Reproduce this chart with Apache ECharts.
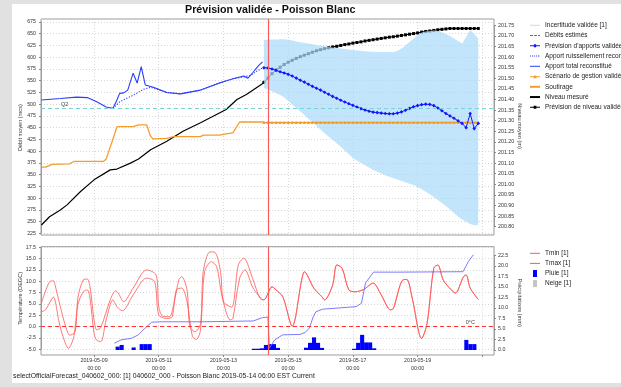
<!DOCTYPE html>
<html>
<head>
<meta charset="utf-8">
<script src="https://cdn.jsdelivr.net/npm/echarts@6/dist/echarts.min.js"></script>
<style>
  html, body { margin: 0; padding: 0; width: 621px; height: 387px; overflow: hidden; background: #e1e1e1; }
  #panel { position: absolute; left: 12px; top: 4px; width: 609px; height: 379px; background: #ffffff; }
  #chart { position: absolute; left: 0; top: 0; width: 621px; height: 387px; }
</style>
</head>
<body>
<div id="panel"></div>
<div id="chart"></div>
<script>
// ---- Time frame -------------------------------------------------------
const YEAR = 2019;
const axisStart = '05-07 08:40';
const axisEnd = '05-21 08:40';
const nowMark = '05-14 09:00';
const forecastStart = '05-14 06:00';
const forecastStepHours = 3;
const rainStepHours = 3;
const q2Flow = 491;

// ---- Observed inflow / withdrawal (mcs) and level (m) -----------------
const inflowTotal = [
  ['05-07 09:00', 509], ['05-07 23:00', 512], ['05-08 11:00', 515], ['05-08 19:00', 514],
  ['05-09 02:00', 505], ['05-09 09:00', 494], ['05-09 14:00', 491], ['05-09 17:00', 509],
  ['05-09 19:00', 523], ['05-09 22:00', 524], ['05-10 01:00', 530], ['05-10 05:00', 566],
  ['05-10 08:00', 545], ['05-10 11:00', 580], ['05-10 14:00', 541], ['05-10 20:00', 536],
  ['05-11 06:00', 525], ['05-11 16:00', 522], ['05-12 07:00', 530], ['05-12 21:00', 545],
  ['05-13 07:00', 554], ['05-13 15:00', 560], ['05-13 18:00', 555], ['05-13 22:00', 568],
  ['05-14 02:00', 582], ['05-14 05:00', 590]
];
const inflowRunoff = [
  ['05-09 14:00', 491], ['05-09 19:00', 505], ['05-10 05:00', 519], ['05-10 13:00', 532],
  ['05-10 18:00', 536], ['05-11 06:00', 525], ['05-11 16:00', 522], ['05-12 07:00', 530],
  ['05-12 21:00', 545], ['05-13 07:00', 554], ['05-13 15:00', 558], ['05-13 20:00', 561],
  ['05-14 00:00', 569], ['05-14 05:00', 577]
];
const withdrawal = [
  ['05-07 09:00', 366], ['05-07 12:00', 366], ['05-07 17:00', 372], ['05-08 06:00', 373],
  ['05-08 09:00', 378], ['05-09 07:00', 378], ['05-09 09:00', 383], ['05-09 13:00', 417],
  ['05-09 17:00', 452], ['05-10 05:00', 452], ['05-10 09:00', 456], ['05-10 15:00', 456],
  ['05-10 18:00', 431], ['05-10 20:00', 426], ['05-11 06:00', 427], ['05-11 11:00', 431],
  ['05-12 07:00', 431], ['05-12 09:00', 434], ['05-12 21:00', 434], ['05-13 01:00', 436],
  ['05-13 07:00', 439], ['05-13 12:00', 462], ['05-14 06:00', 462]
];
const levelMeasured = [
  ['05-07 09:00', 200.808], ['05-07 15:00', 200.847], ['05-07 23:00', 200.879], ['05-08 04:00', 200.903],
  ['05-08 14:00', 200.966], ['05-09 00:00', 201.021], ['05-09 12:00', 201.068], ['05-09 17:00', 201.072],
  ['05-10 03:00', 201.100], ['05-10 09:00', 201.119], ['05-10 18:00', 201.163], ['05-11 06:00', 201.203],
  ['05-11 18:00', 201.250], ['05-12 07:00', 201.290], ['05-13 02:00', 201.353], ['05-13 10:00', 201.400],
  ['05-13 17:00', 201.424], ['05-14 06:00', 201.479]
];

// ---- Forecast, every 3 h from forecastStart ---------------------------
const fcInflow = [
  577.5, 577, 575, 572, 569, 566.5, 563.5, 560, 555.5, 551, 547, 542.5, 538, 534, 530, 525.5, 521, 516.5,
  512.5, 508.5, 504.5, 501, 497.5, 494, 490.5, 487.5, 485, 483, 482, 481, 480, 479.5, 479.5, 481, 483.5, 487,
  491, 494.5, 497, 499, 500, 499.5, 497, 492, 486, 480, 475, 470, 464.5, 459, 450, 480, 448, 459
];
const fcLevel = [
  201.481, 201.501, 201.522, 201.539, 201.552, 201.565, 201.576, 201.585, 201.594, 201.602, 201.609, 201.616,
  201.623, 201.630, 201.635, 201.640, 201.644, 201.648, 201.651, 201.655, 201.659, 201.662, 201.666, 201.669,
  201.672, 201.676, 201.679, 201.682, 201.685, 201.688, 201.691, 201.694, 201.696, 201.699, 201.702, 201.705,
  201.708, 201.711, 201.714, 201.718, 201.721, 201.723, 201.726, 201.729, 201.731, 201.733, 201.735, 201.735,
  201.735, 201.735, 201.735, 201.735, 201.735, 201.735
];
const fcBandHigh = [
  636.7, 637.1, 637.5, 637.7, 638.2, 638.2, 637.1, 635.6, 633.5, 631.8, 630.3, 629, 627.5, 626, 624.5, 623.3,
  622, 620.7, 619.6, 618.6, 617.5, 616.4, 615.4, 614.5, 613.7, 612.8, 612.2, 611.5, 611.1, 611.1, 611.1, 611.1,
  611.1, 613.2, 618.6, 625, 632.4, 639.9, 647.3, 652.6, 654.8, 655.8, 656.7, 655.8, 653.1, 649.4, 645.2, 639.9,
  634.6, 629.2, 643.1, 658, 649.4, 639.9
];
const fcBandLow = [
  534.5, 531.3, 527.4, 523.8, 519.5, 514.2, 506.8, 499.3, 491.9, 484.4, 477, 469.1, 461.4, 453.5, 446.1, 438.2,
  431.2, 423.7, 416.9, 409.2, 401.3, 393.2, 385.4, 380.1, 374.7, 369.8, 365.2, 359.8, 356, 352.4, 348.8, 345.4,
  342.2, 339.4, 336.4, 333.7, 330.7, 327.9, 323.7, 319, 313.4, 308.1, 302.3, 295.9, 289.5, 283.2, 275.7, 268.3,
  260.8, 254.4, 249.7, 244.8, 242.1, 242.7
];
const fcScenario = [
  461, 461, 461, 461, 461, 461, 461, 461, 461, 461, 461, 461, 461, 461, 461, 461, 461, 461,
  461, 461, 461, 461, 461, 461, 461, 461, 461, 461, 461, 461, 461, 461, 461, 461, 461, 461,
  461, 461, 461, 461, 461, 461, 461, 461, 461, 461, 461, 461, 461, 461, 461, 461, 461, 461
];

// ---- Meteo (°C, mm) ----------------------------------------------------
const tmaxObserved = [
  ['05-07 09:00', 5.2], ['05-07 15:00', 9.9], ['05-07 18:00', 10.1], ['05-07 19:00', 9.3], ['05-07 23:00', 4.4],
  ['05-08 03:00', 0.0], ['05-08 06:00', -1.9], ['05-08 10:00', -1.1], ['05-08 12:00', 6.3], ['05-08 16:00', 10.3],
  ['05-08 19:00', 10.5], ['05-08 21:00', 8.8], ['05-09 00:00', 1.5], ['05-09 02:00', -0.7], ['05-09 05:00', -0.2],
  ['05-09 12:00', 5.9], ['05-09 16:00', 7.9], ['05-09 18:00', 7.4], ['05-09 22:00', 5.5], ['05-10 05:00', 8.5],
  ['05-10 15:00', 12.5], ['05-10 22:00', 11.4], ['05-11 00:00', 4.4], ['05-11 03:00', 2.3], ['05-11 08:00', 2.2],
  ['05-11 11:00', 4.8], ['05-11 15:00', 10.4], ['05-11 17:00', 11.0], ['05-11 21:00', 8.1], ['05-11 23:00', 0.0],
  ['05-12 03:00', -1.1], ['05-12 07:00', 0.7], ['05-12 09:00', 12.1], ['05-12 14:00', 16.5], ['05-12 18:00', 16.3],
  ['05-12 22:00', 11.8], ['05-13 00:00', 5.5], ['05-13 06:00', 4.3], ['05-13 11:00', 13.6], ['05-13 15:00', 15.1],
  ['05-13 22:00', 10.3], ['05-14 03:00', 6.3]
];
const tminObserved = [
  ['05-07 09:00', 3.3], ['05-07 12:00', 3.7], ['05-07 17:00', 6.3], ['05-07 18:00', 6.5], ['05-07 22:00', 1.1],
  ['05-08 01:00', -2.2], ['05-08 05:00', -4.8], ['05-08 09:00', -2.2], ['05-08 12:00', 4.8], ['05-08 16:00', 7.7],
  ['05-08 19:00', 8.1], ['05-08 21:00', 6.3], ['05-09 00:00', -1.5], ['05-09 02:00', -3.0], ['05-09 05:00', -3.3],
  ['05-09 09:00', 1.5], ['05-09 14:00', 5.9], ['05-09 17:00', 4.4], ['05-09 21:00', 3.5], ['05-10 05:00', 7.0],
  ['05-10 15:00', 10.7], ['05-10 21:00', 9.9], ['05-11 00:00', 2.6], ['05-11 06:00', 1.8], ['05-11 10:00', 2.2],
  ['05-11 13:00', 8.1], ['05-11 17:00', 8.5], ['05-11 21:00', 5.5], ['05-12 01:00', -2.2], ['05-12 04:00', -2.8],
  ['05-12 07:00', -0.7], ['05-12 10:00', 12.1], ['05-12 15:00', 14.3], ['05-12 19:00', 13.2], ['05-12 23:00', 6.6],
  ['05-13 05:00', 1.5], ['05-13 07:00', 1.8], ['05-13 12:00', 10.7], ['05-13 16:00', 12.5], ['05-13 22:00', 8.5]
];
const tempForecast = [
  ['05-14 06:00', 5.9], ['05-14 12:00', 8.8], ['05-14 15:00', 8.1], ['05-14 20:00', 6.6], ['05-15 03:00', 0.1],
  ['05-15 10:00', 10.3], ['05-15 12:00', 12.1], ['05-15 19:00', 8.5], ['05-16 01:00', 6.6], ['05-16 03:00', 5.9],
  ['05-16 09:00', 9.2], ['05-16 12:00', 13.6], ['05-16 16:00', 12.9], ['05-16 21:00', 8.1], ['05-17 02:00', 7.7],
  ['05-17 08:00', 8.2], ['05-17 15:00', 9.6], ['05-17 21:00', 7.0], ['05-18 04:00', 3.7], ['05-18 06:00', 4.0],
  ['05-18 13:00', 10.3], ['05-18 16:00', 10.4], ['05-18 20:00', 6.3], ['05-19 03:00', -2.6], ['05-19 07:00', 0.7],
  ['05-19 12:00', 12.9], ['05-19 15:00', 13.6], ['05-19 19:00', 10.3], ['05-20 01:00', 8.1], ['05-20 04:00', 7.4],
  ['05-20 10:00', 11.0], ['05-20 12:00', 11.4], ['05-20 15:00', 8.5], ['05-20 21:00', 6.0]
];
const precipCumul = [
  ['05-09 14:00', 1.6], ['05-09 19:00', 2.4], ['05-10 03:00', 2.8], ['05-10 08:00', 3.6], ['05-10 13:00', 5.2],
  ['05-10 18:00', 6.6], ['05-11 00:00', 6.7], ['05-12 07:00', 6.7], ['05-13 22:00', 6.9], ['05-14 05:00', 7.7],
  ['05-14 09:00', 7.8], ['05-14 10:00', 0.4], ['05-14 14:00', 2.4], ['05-14 20:00', 3.6], ['05-15 09:00', 3.7],
  ['05-15 13:00', 4.2], ['05-15 16:00', 5.2], ['05-15 19:00', 8.0], ['05-15 21:00', 9.1], ['05-16 02:00', 9.7],
  ['05-17 03:00', 10.3], ['05-17 07:00', 11.1], ['05-17 10:00', 15.9], ['05-17 16:00', 18.5], ['05-18 11:00', 18.5],
  ['05-20 11:00', 18.6], ['05-20 15:00', 21.0], ['05-20 21:00', 23.6]
];
// rain per 3 h period, keyed by period start
const rain = [
  ['05-09 15:00', 0.8], ['05-09 18:00', 1.2], ['05-10 03:00', 0.6], ['05-10 09:00', 1.4], ['05-10 12:00', 1.4],
  ['05-10 15:00', 1.4], ['05-13 21:00', 0.3], ['05-14 00:00', 0.3], ['05-14 03:00', 0.4], ['05-14 06:00', 1.2],
  ['05-14 09:00', 1.4], ['05-14 12:00', 1.4], ['05-14 15:00', 0.5], ['05-15 12:00', 0.55], ['05-15 15:00', 1.7],
  ['05-15 18:00', 3.0], ['05-15 21:00', 1.7], ['05-16 00:00', 0.5], ['05-17 00:00', 0.3], ['05-17 03:00', 1.7],
  ['05-17 06:00', 3.6], ['05-17 09:00', 1.8], ['05-17 12:00', 1.8], ['05-17 15:00', 0.4], ['05-20 12:00', 2.4],
  ['05-20 15:00', 1.4], ['05-20 18:00', 1.4]
];
const snow = [];

// ---- Labels -------------------------------------------------------------
const titleText = 'Prévision validée - Poisson Blanc';
const statusText = 'selectOfficialForecast_040602_000: [1] 040602_000 - Poisson Blanc 2019-05-14 06:00 EST Current';
const topLegend = ['Incertitude validée [1]', 'Débits estimés', "Prévision d'apports validée",
  'Apport ruissellement reconstitué', 'Apport total reconstitué', 'Scénario de gestion validé [1]',
  'Soutirage', 'Niveau mesuré', 'Prévision de niveau validée'];
const bottomLegend = ['Tmin [1]', 'Tmax [1]', 'Pluie [1]', 'Neige [1]'];

// ---- Helpers -------------------------------------------------------------
const HOUR = 3600e3;
function toTime(s) {
  const [md, hm] = s.split(' ');
  const [mo, d] = md.split('-').map(Number);
  const [h, mi] = hm.split(':').map(Number);
  return Date.UTC(YEAR, mo - 1, d, h, mi);
}
const pairs = arr => arr.map(([t, v]) => [toTime(t), v]);
const fcTimes = fcInflow.map((_, i) => toTime(forecastStart) + i * forecastStepHours * HOUR);
const onForecast = vals => vals.map((v, i) => [fcTimes[i], v]);
const pad = n => String(n).padStart(2, '0');
const X0 = toTime(axisStart), X1 = toTime(axisEnd);

const FONT = 'Liberation Sans';
const FRAME = '#9c9c9c';
const GRIDLINE = { color: '#cdcdcd', type: [1, 2], width: 0.8 };

function dateLabel(v) {
  const d = new Date(v);
  if (d.getUTCHours() || d.getUTCMinutes() || X1 - v < 12 * HOUR) return '';
  return d.getUTCFullYear() + '-' + pad(d.getUTCMonth() + 1) + '-' + pad(d.getUTCDate()) +
    '\n' + pad(d.getUTCHours()) + ':' + pad(d.getUTCMinutes());
}

// frame grids (0, 3) plus one grid per value axis so each axis keeps its own span
const grids = [
  { left: 41, top: 19, width: 453, height: 216, show: true, borderColor: FRAME, borderWidth: 1, backgroundColor: 'transparent' },
  { left: 41, top: 22, width: 453, height: 211.3 },
  { left: 41, top: 25.3, width: 453, height: 201.4 },
  { left: 41, top: 246.7, width: 453, height: 108.3, show: true, borderColor: FRAME, borderWidth: 1, backgroundColor: 'transparent' },
  { left: 41, top: 247.3, width: 453, height: 102 },
  { left: 41, top: 255.3, width: 453, height: 94.7 }
].map(g => Object.assign({ outerBoundsMode: 'none', containLabel: false }, g));

const xAxes = grids.map((g, i) => ({
  type: 'time', gridIndex: i, min: X0, max: X1,
  minInterval: 48 * HOUR, maxInterval: 48 * HOUR,
  show: i === 0 || i === 3,
  axisLine: { show: false },
  axisTick: { show: i === 3, length: 2, lineStyle: { color: '#888' } },
  axisLabel: { show: i === 3, formatter: dateLabel, fontSize: 5.3, lineHeight: 7.7, color: '#333',
    margin: 1.5, fontFamily: FONT, hideOverlap: false },
  splitLine: { show: true, lineStyle: GRIDLINE }
}));

function valueAxis(gi, min, max, step, pos, name, rot, gap, decimals, grid) {
  return {
    type: 'value', gridIndex: gi, min, max, interval: step, position: pos,
    name, nameLocation: 'middle', nameRotate: rot, nameGap: gap, nameMoveOverlap: false,
    nameTextStyle: { fontSize: 5.6, color: '#333', fontFamily: FONT },
    axisLine: { show: true, lineStyle: { color: FRAME } },
    axisTick: { show: true, length: 2, lineStyle: { color: '#888' } },
    axisLabel: { fontSize: 5.3, color: '#333', fontFamily: FONT, margin: pos === 'left' ? 5 : 4,
      formatter: v => decimals ? v.toFixed(decimals) : String(Math.round(v)) },
    splitLine: { show: grid, lineStyle: GRIDLINE }
  };
}
const yAxes = [
  { type: 'value', gridIndex: 0, min: 0, max: 1, show: false },
  valueAxis(1, 225, 675, 25, 'left', 'Débit moyen (mcs)', 90, 18, 0, true),
  valueAxis(2, 200.8, 201.75, 0.05, 'right', 'Niveau moyen (m)', -90, 23, 2, false),
  { type: 'value', gridIndex: 3, min: 0, max: 1, show: false },
  valueAxis(4, -5, 17.5, 2.5, 'left', 'Température (DEGC)', 90, 18, 1, true),
  valueAxis(5, 0, 22.5, 2.5, 'right', 'Précipitations (mm)', -90, 23, 1, false)
];

const line = (name, xi, data, style, extra) => Object.assign({
  type: 'line', name, xAxisIndex: xi, yAxisIndex: xi, data, symbol: 'none', silent: true, z: 4,
  lineStyle: style, itemStyle: { color: style.color }
}, extra || {});

const BLUE = '#2b3dff';
const ORANGE = '#f59d2a';
const RED = '#ff5656';
const nowLine = {
  silent: true, symbol: 'none', label: { show: false },
  lineStyle: { color: '#ff5a5a', width: 1.2, type: 'solid' },
  data: [{ xAxis: toTime(nowMark) }]
};

const tminAll = pairs(tminObserved).concat(pairs(tempForecast));
const tmaxAll = pairs(tmaxObserved).concat(pairs(tempForecast));
const rainBars = rain.map(([t, v]) => [toTime(t) + rainStepHours * HOUR / 2, v]);

const series = [
  // level forecast sits beneath the uncertainty band
  line('Prévision de niveau validée', 2, onForecast(fcLevel), { color: '#000', width: 1 },
    { symbol: 'rect', symbolSize: 3, showSymbol: true, showAllSymbol: true, z: 2 }),
  line('Niveau mesuré', 2, pairs(levelMeasured), { color: '#000', width: 1.2 }, { z: 2 }),
  line('bande-min', 1, onForecast(fcBandLow), { color: '#fff', opacity: 0 }, { stack: 'incertitude', z: 3 }),
  line('Incertitude validée [1]', 1, fcBandHigh.map((v, i) => [fcTimes[i], v - fcBandLow[i]]),
    { color: '#b9e0fa', opacity: 0 },
    { stack: 'incertitude', z: 3, areaStyle: { color: 'rgba(172,219,251,0.72)', opacity: 1 } }),
  line('Soutirage', 1, pairs(withdrawal), { color: ORANGE, width: 1.3 }),
  line('Scénario de gestion validé [1]', 1, onForecast(fcScenario), { color: ORANGE, width: 1.4 },
    { symbol: 'triangle', symbolSize: 3, showSymbol: true, showAllSymbol: true }),
  line('Apport total reconstitué', 1, pairs(inflowTotal), { color: BLUE, width: 1.1 }),
  line('Apport ruissellement reconstitué', 1, pairs(inflowRunoff), { color: BLUE, width: 1.1, type: [1.2, 1.6] }),
  line('Débits estimés', 1, [], { color: '#3a6bff', width: 1.2, type: [3, 2] }),
  line("Prévision d'apports validée", 1, onForecast(fcInflow), { color: '#1414ff', width: 1 },
    { symbol: 'diamond', symbolSize: 3.6, showSymbol: true, showAllSymbol: true,
      markLine: {
        silent: true, symbol: 'none',
        lineStyle: { color: '#79d4d8', width: 1, type: [4, 3] },
        label: { show: true, formatter: 'Q2', position: 'insideStartTop', distance: 1,
          padding: [0, 0, 0, 19], fontSize: 5.5, color: '#444', fontFamily: FONT },
        data: [{ yAxis: q2Flow }]
      } }),
  line('now-top', 0, [[toTime(nowMark), 0.5]], { opacity: 0 }, { markLine: nowLine }),

  line('Tmin [1]', 4, tminAll, { color: RED, width: 0.8 }, { smooth: 0.3 }),
  line('Tmax [1]', 4, tmaxAll, { color: RED, width: 0.8 },
    { smooth: 0.3,
      markLine: {
        silent: true, symbol: 'none',
        lineStyle: { color: '#ff3434', width: 1, type: [4, 3] },
        label: { show: true, formatter: '0°C', position: 'insideEndTop', distance: 1,
          padding: [0, 18, 0, 0], fontSize: 5.5, color: '#444', fontFamily: FONT },
        data: [{ yAxis: 0 }]
      } }),
  line('cumul', 5, pairs(precipCumul), { color: '#6c6cff', width: 0.9 }),
  { type: 'bar', name: 'Pluie [1]', xAxisIndex: 5, yAxisIndex: 5, stack: 'precip', silent: true, z: 3,
    data: rainBars, barWidth: 4.1, itemStyle: { color: '#0000ff' } },
  { type: 'bar', name: 'Neige [1]', xAxisIndex: 5, yAxisIndex: 5, stack: 'precip', silent: true, z: 3,
    data: snow, barWidth: 4.1, itemStyle: { color: '#c4c4c4' } },
  line('now-bottom', 3, [[toTime(nowMark), 0.5]], { opacity: 0 }, { markLine: nowLine })
];

// legend glyphs: plain, dashed, dotted lines and lines carrying a marker
const ICON = {
  plain: 'path://M0 3H10V4H0Z',
  thick: 'path://M0 2.5H10V4.5H0Z',
  dashed: 'path://M0 3H3V4H0Z M4 3H7V4H4Z M8 3H10V4H8Z',
  dotted: 'path://M0 3H1V4H0Z M2 3H3V4H2Z M4 3H5V4H4Z M6 3H7V4H6Z M8 3H9V4H8Z M9.6 3H10V4H9.6Z',
  diamond: 'path://M0 3H10V4H0Z M5 1.5L7 3.5L5 5.5L3 3.5Z',
  triangle: 'path://M0 3H10V4H0Z M5 1.6L6.9 5.2H3.1Z',
  square: 'path://M0 3H10V4H0Z M3.6 2H6.4V5H3.6Z',
  bar: 'path://M0 0H4V7H0Z'
};
const topIcons = ['plain', 'dashed', 'diamond', 'dotted', 'plain', 'triangle', 'thick', 'thick', 'square'];
const bottomIcons = ['plain', 'plain', 'bar', 'bar'];

const legendBase = {
  orient: 'vertical', left: 530, itemWidth: 10, itemHeight: 7, padding: 0,
  selectedMode: false, textStyle: { fontSize: 6.5, color: '#222', fontFamily: FONT, lineHeight: 7 }
};

const option = {
  useUTC: true,
  animation: false,
  backgroundColor: 'transparent',
  textStyle: { fontFamily: FONT },
  title: {
    text: titleText, left: 185, top: 4.5, padding: 0,
    textStyle: { fontSize: 10.7, fontWeight: 'bold', color: '#111', fontFamily: FONT }
  },
  grid: grids,
  xAxis: xAxes,
  yAxis: yAxes,
  legend: [
    Object.assign({}, legendBase, {
      top: 21.8, itemGap: 3.25,
      data: topLegend.map((n, i) => ({ name: n, icon: ICON[topIcons[i]],
        itemStyle: i === 0 ? { color: '#b9e0fa', opacity: 1 } : undefined }))
    }),
    Object.assign({}, legendBase, {
      top: 249.8, itemGap: 3.1,
      data: bottomLegend.map((n, i) => ({ name: n, icon: ICON[bottomIcons[i]] }))
    })
  ],
  graphic: [{
    type: 'text', left: 13, top: 373,
    style: { text: statusText, fontSize: 6.8, fill: '#222', fontFamily: FONT }
  }],
  series
};

const chart = echarts.init(document.getElementById('chart'), null, { renderer: 'canvas' });
chart.setOption(option);
</script>
</body>
</html>
